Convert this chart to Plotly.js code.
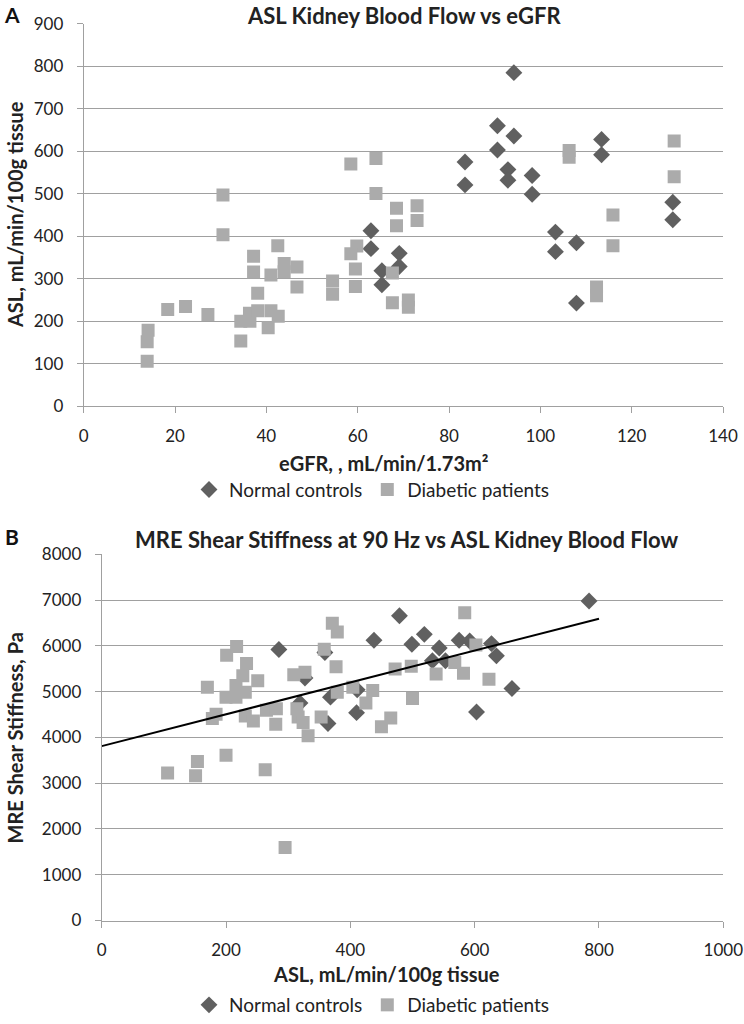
<!DOCTYPE html>
<html><head><meta charset="utf-8">
<script src="https://cdn.plot.ly/plotly-3.0.1.min.js"></script>
<style>body{margin:0;background:#fff}#c{width:744px;height:1024px}</style>
</head><body><div id="c"></div>
<script>
// Panel A: ASL vs eGFR
const aNormalX = [94.2, 90.6, 94.2, 90.6, 83.5, 83.5, 92.9, 92.9, 62.9, 62.9, 69.1, 69.1, 65.3, 65.3, 98.2, 98.2, 113.4, 113.4, 103.3, 103.3, 107.9, 107.9, 129.0, 129.0];
const aNormalY = [785, 660, 636, 603, 575, 521, 557, 532, 413, 371, 360, 329, 319, 286, 543, 499, 628, 592, 410, 364, 385, 243, 480, 439];
const aDiabX = [30.5, 30.5, 42.5, 37.2, 37.2, 43.9, 46.7, 43.9, 41.0, 46.7, 38.1, 18.4, 22.3, 27.2, 34.4, 36.3, 36.4, 38.1, 41.0, 42.6, 40.4, 34.4, 14.1, 13.9, 13.9,
  58.5, 64.0, 64.0, 68.5, 73.0, 68.5, 73.0, 59.8, 58.5, 59.5, 59.5, 54.5, 54.5, 67.6, 67.6, 71.1, 71.1,
  106.3, 106.3, 129.3, 129.3, 115.9, 115.9, 112.3, 112.3];
const aDiabY = [497, 404, 378, 353, 316, 336, 328, 317, 309, 281, 266, 228, 235, 216, 200, 219, 200, 225, 225, 212, 185, 154, 179, 152, 106,
  570, 583, 501, 466, 472, 425, 437, 377, 359, 323, 282, 295, 264, 314, 244, 250, 233,
  602, 586, 624, 540, 450, 378, 281, 260];

// Panel B: MRE stiffness vs ASL
const bNormalX = [285, 327, 319, 359, 368, 364, 411, 410, 438, 479, 499, 519, 532, 543, 553, 575, 592, 627, 635, 603, 660, 784];
const bNormalY = [5921, 5300, 4752, 5857, 4881, 4304, 5040, 4542, 6123, 6658, 6036, 6253, 5675, 5956, 5675, 6123, 6108, 6051, 5783, 4557, 5068, 6983];
const bDiabX = [106, 151, 154, 200, 263, 295, 170, 178, 184, 200, 201, 217, 233, 227, 216, 216, 231, 231, 244, 251, 265, 281, 280, 309, 327, 314, 316, 324, 332,
  371, 379, 358, 377, 379, 353, 404, 436, 425, 450, 465, 472, 498, 500, 538, 568, 582, 584, 602, 623];
const bDiabY = [3221, 3163, 3474, 3611, 3293, 1596, 5098, 4412, 4505, 4881, 5798, 5987, 5618, 5350, 5133, 4881, 4990, 4470, 4362, 5241, 4592, 4628, 4289, 5371, 5423, 4628, 4448, 4325, 4037,
  6498, 6303, 5928, 5545, 4990, 4448, 5098, 5025, 4752, 4232, 4427, 5495, 5553, 4852, 5387, 5640, 5402, 6723, 6021, 5272];
const trendX = [0, 800];
const trendY = [3810, 6595];

const seriesNames = ["Normal controls", "Diabetic patients"];
const titleA = "ASL Kidney Blood Flow vs eGFR";
const titleB = "MRE Shear Stiffness at 90 Hz vs ASL Kidney Blood Flow";
const xTitleA = "eGFR, , mL/min/1.73m²";
const yTitleA = "ASL, mL/min/100g tissue";
const xTitleB = "ASL, mL/min/100g tissue";
const yTitleB = "MRE Shear Stiffness, Pa";

const FONT = "Lato, 'Open Sans', sans-serif";
const normColor = "#606060", diabColor = "#ababab";
const normMarker = {symbol: "diamond", size: 13, color: normColor};
const diabMarker = {symbol: "square", size: 13, color: diabColor};

const traces = [
  {x: aNormalX, y: aNormalY, mode: "markers", type: "scatter", name: seriesNames[0], marker: normMarker, xaxis: "x", yaxis: "y", legend: "legend"},
  {x: aDiabX, y: aDiabY, mode: "markers", type: "scatter", name: seriesNames[1], marker: diabMarker, xaxis: "x", yaxis: "y", legend: "legend"},
  {x: bNormalX, y: bNormalY, mode: "markers", type: "scatter", name: seriesNames[0], marker: normMarker, xaxis: "x2", yaxis: "y2", legend: "legend2"},
  {x: bDiabX, y: bDiabY, mode: "markers", type: "scatter", name: seriesNames[1], marker: diabMarker, xaxis: "x2", yaxis: "y2", legend: "legend2"},
  {x: trendX, y: trendY, mode: "lines", type: "scatter", line: {color: "#000", width: 2}, showlegend: false, xaxis: "x2", yaxis: "y2"}
];

const gridC = "#a0a0a0";
const tickFont = {family: FONT, size: 17, color: "#222"};
function xa(dom, range, dtick, anchor) {
  return {domain: dom, range: range, dtick: dtick, tick0: 0, showgrid: false, zeroline: false,
    showline: true, linecolor: gridC, linewidth: 1, ticks: "outside", ticklen: 6, tickcolor: gridC,
    ticklabelstandoff: 8, tickfont: tickFont, anchor: anchor};
}
function ya(dom, range, dtick, anchor) {
  return {domain: dom, range: range, dtick: dtick, tick0: 0, showgrid: true, gridcolor: gridC, gridwidth: 1, zeroline: false,
    showline: true, linecolor: gridC, linewidth: 1, ticks: "outside", ticklen: 6, tickcolor: gridC,
    ticklabelstandoff: 10, tickfont: tickFont, anchor: anchor};
}
function ann(text, px, py, size, extra) {
  return Object.assign({text: text, xref: "paper", yref: "paper", x: px / 744, y: 1 - py / 1024,
    xanchor: "center", yanchor: "middle", showarrow: false,
    font: {family: FONT, size: size, color: "#222", weight: "bold"}}, extra || {});
}

const legendFont = {family: FONT, size: 19, color: "#222"};
const layout = {
  width: 744, height: 1024, margin: {l: 0, r: 0, t: 0, b: 0},
  paper_bgcolor: "#fff", plot_bgcolor: "#fff",
  font: {family: FONT, color: "#222"},
  xaxis: xa([0.1125, 0.9718], [0, 140], 20, "y"),
  yaxis: ya([0.5996, 0.9766], [0, 900], 100, "x"),
  xaxis2: xa([0.1367, 0.9722], [0, 1000], 200, "y2"),
  yaxis2: ya([0.0931, 0.4538], [0, 8000], 1000, "x2"),
  legend: {orientation: "h", x: 372 / 744, xanchor: "center", y: 1 - 494 / 1024, yanchor: "middle",
    font: legendFont, itemwidth: 30, bgcolor: "rgba(0,0,0,0)"},
  legend2: {orientation: "h", x: 372 / 744, xanchor: "center", y: 1 - 1014 / 1024, yanchor: "middle",
    font: legendFont, itemwidth: 30, bgcolor: "rgba(0,0,0,0)"},
  annotations: [
    ann(titleA, 404, 1, 22, {yanchor: "top", borderpad: 0}),
    ann(titleB, 407, 544, 22),
    ann(xTitleA, 384, 467, 20),
    ann(xTitleB, 386, 983, 20),
    ann(yTitleA, 15, 217, 20, {textangle: -90}),
    ann(yTitleB, 15, 745, 20, {textangle: -90}),
    ann("A", 12, 1, 21, {yanchor: "top", borderpad: 0, font: {family: FONT, size: 21, color: "#111", weight: "bold"}}),
    ann("B", 12, 541, 21, {font: {family: FONT, size: 21, color: "#111", weight: "bold"}})
  ]
};

Plotly.newPlot("c", traces, layout, {displayModeBar: false, staticPlot: true});
</script>
</body></html>
